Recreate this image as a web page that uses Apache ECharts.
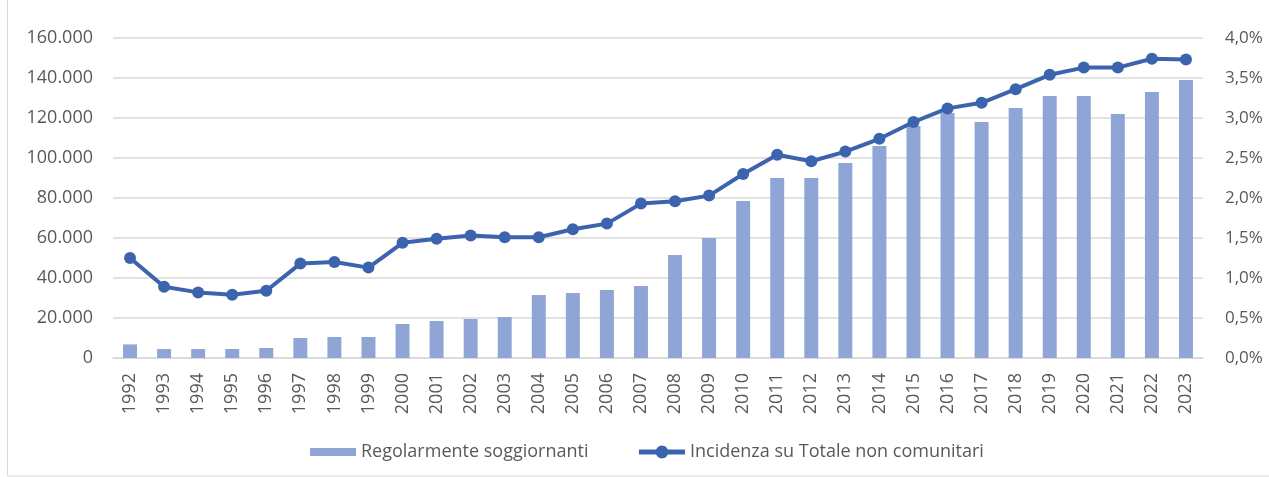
<!DOCTYPE html>
<html>
<head>
<meta charset="utf-8">
<script src="https://cdn.jsdelivr.net/npm/echarts@6/dist/echarts.min.js"></script>
<style>
  html, body { margin: 0; padding: 0; background: #fff; }
  #chart { width: 1269px; height: 477px; }
</style>
</head>
<body>
<div id="chart"></div>
<script>
// Data
const years = ['1992', '1993', '1994', '1995', '1996', '1997', '1998', '1999', '2000', '2001',
  '2002', '2003', '2004', '2005', '2006', '2007', '2008', '2009', '2010', '2011',
  '2012', '2013', '2014', '2015', '2016', '2017', '2018', '2019', '2020', '2021', '2022', '2023'];
const soggiornanti = [6800, 4500, 4500, 4500, 5000, 10000, 10500, 10500, 17000, 18500,
  19500, 20500, 31500, 32500, 34000, 36000, 51500, 60000, 78500, 90000,
  90000, 97500, 106000, 116000, 122500, 118000, 125000, 131000, 131000, 122000, 133000, 139000];
const incidenza = [1.25, 0.89, 0.82, 0.79, 0.84, 1.18, 1.20, 1.13, 1.44, 1.49,
  1.53, 1.51, 1.51, 1.61, 1.68, 1.93, 1.96, 2.03, 2.30, 2.54,
  2.46, 2.58, 2.74, 2.95, 3.12, 3.19, 3.36, 3.54, 3.63, 3.63, 3.74, 3.73];
const seriesNames = ['Regolarmente soggiornanti', 'Incidenza su Totale non comunitari'];

const FONT = '"Open Sans", "Noto Sans", sans-serif';
const TXT = '#595959';
const GRIDC = '#d9d9d9';
const LINEC = '#3c64ae';
const BARC = '#8fa5d5';

const fmtThousands = (v) => String(v).replace(/\B(?=(\d{3})+(?!\d))/g, '.');
const fmtPct = (v) => v.toFixed(1).replace('.', ',') + '%';

// thin bar swatch inside a taller legend box (the moveTo points keep the box size)
const barSwatch = 'path://M0,0M0,4L46,4L46,12L0,12ZM0,16';

const chart = echarts.init(document.getElementById('chart'), null, { renderer: 'canvas' });
chart.setOption({
  animation: false,
  textStyle: { fontFamily: FONT },
  grid: { left: 113, right: 66, top: 38, bottom: 119 },
  graphic: [{
    type: 'rect',
    shape: { x: 7.5, y: -2, width: 1280, height: 478 },
    style: { fill: 'none', stroke: GRIDC, lineWidth: 1 },
    silent: true
  }],
  legend: {
    top: 438,
    left: 305,
    itemGap: 48,
    itemWidth: 46,
    itemHeight: 16,
    textStyle: { color: TXT, fontSize: 18, fontFamily: FONT },
    data: [
      { name: seriesNames[0], icon: barSwatch, itemStyle: { color: BARC } },
      { name: seriesNames[1], lineStyle: { width: 5, color: LINEC } }
    ]
  },
  xAxis: {
    type: 'category',
    data: years,
    axisLine: { lineStyle: { color: GRIDC, width: 1.5 } },
    axisTick: { show: false },
    axisLabel: { rotate: 90, color: TXT, fontSize: 18, margin: 15, interval: 0 }
  },
  yAxis: [{
    type: 'value',
    min: 0, max: 160000, interval: 20000,
    axisLine: { show: false },
    axisTick: { show: false },
    splitLine: { lineStyle: { color: GRIDC, width: 1.5 } },
    axisLabel: { color: TXT, fontSize: 18, margin: 20, formatter: fmtThousands }
  }, {
    type: 'value',
    min: 0, max: 4, interval: 0.5,
    axisLine: { show: false },
    axisTick: { show: false },
    splitLine: { show: false },
    axisLabel: { color: TXT, fontSize: 17, margin: 22, formatter: fmtPct }
  }],
  series: [{
    name: seriesNames[0],
    type: 'bar',
    data: soggiornanti,
    barWidth: '41%',
    itemStyle: { color: BARC }
  }, {
    name: seriesNames[1],
    type: 'line',
    yAxisIndex: 1,
    data: incidenza,
    symbol: 'circle',
    symbolSize: 12,
    lineStyle: { color: LINEC, width: 4 },
    itemStyle: { color: LINEC }
  }]
});
</script>
</body>
</html>
